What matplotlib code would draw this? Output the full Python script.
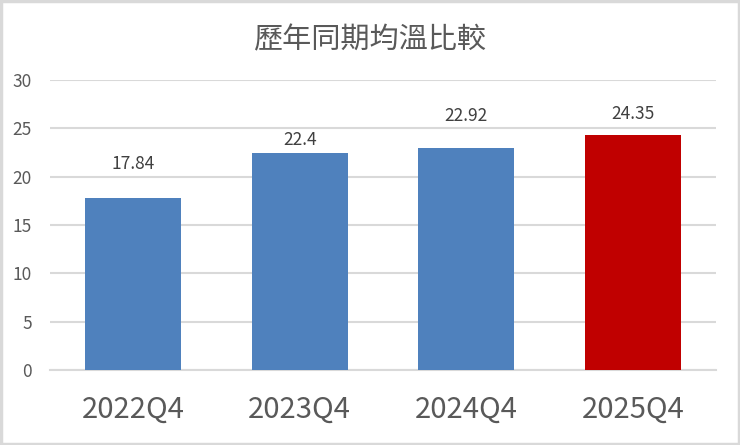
import matplotlib
matplotlib.use("Agg")
import matplotlib.pyplot as plt
from matplotlib.patches import Rectangle

plt.rcParams['font.family'] = ['Noto Sans CJK TC', 'DejaVu Sans']

categories = ["2022Q4", "2023Q4", "2024Q4", "2025Q4"]
values = [17.84, 22.4, 22.92, 24.35]
bar_colors = ["#4F81BD", "#4F81BD", "#4F81BD", "#C00000"]
value_labels = ["17.84", "22.4", "22.92", "24.35"]
y_ticks = [0, 5, 10, 15, 20, 25, 30]
title = "歷年同期均溫比較"

# label offsets above bar tops (points) - styling only
label_offsets = [24.5, 10, 23, 15]

fig = plt.figure(figsize=(7.4, 4.45), dpi=100)
fig.patch.set_facecolor("white")
ax = fig.add_axes([50/740, 75/445, 666/740, 290/445])

x = list(range(len(categories)))
ax.bar(x, values, width=0.575, color=bar_colors, zorder=3)

ax.set_xlim(-0.5, len(categories) - 0.5)
ax.set_ylim(0, 30)
ax.set_yticks(y_ticks)
ax.set_yticklabels([str(t) for t in y_ticks], fontsize=12.5, color="#595959")
ax.set_xticks(x)
ax.set_xticklabels(categories, fontsize=21, color="#595959")
ax.tick_params(axis='both', length=0)
ax.tick_params(axis='y', pad=13)
ax.tick_params(axis='x', pad=18)

ax.grid(axis='y', color="#D9D9D9", linewidth=1.5, zorder=0)
ax.grid(axis='x', visible=False)
for s in ["top", "right", "left"]:
    ax.spines[s].set_visible(False)
ax.spines["bottom"].set_color("#D9D9D9")
ax.spines["bottom"].set_linewidth(1.5)

for xi, v, lab, off in zip(x, values, value_labels, label_offsets):
    ax.annotate(lab, (xi, v), xytext=(0, off), textcoords="offset points",
                ha="center", va="center", fontsize=12.5, color="#404040")

fig.text(0.5, (445 - 40) / 445, title, ha="center", va="center",
         fontsize=21, color="#595959")

fig.patches.append(Rectangle((0.0015, 0.0025), 0.997, 0.995, transform=fig.transFigure,
                             fill=False, edgecolor="#D9D9D9", linewidth=2.5))

fig.savefig("out.png", dpi=100)
